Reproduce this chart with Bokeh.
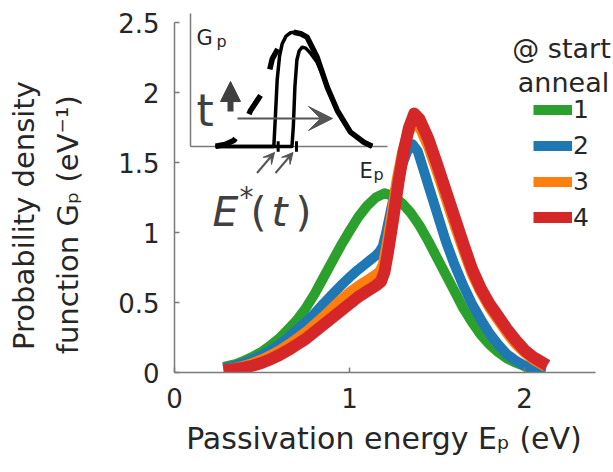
import math
from bokeh.plotting import figure
from bokeh.models import (Range1d, FixedTicker, Label, Legend, LegendItem,
                          Arrow, VeeHead, NormalHead, LinearAxis)
from bokeh.embed import file_html
from bokeh.resources import INLINE

# ---------------- main chart data ----------------
ep_1 = [0.28, 0.35, 0.40, 0.45, 0.50, 0.55, 0.60, 0.65, 0.70, 0.75, 0.80, 0.85, 0.90,
        0.95, 1.00, 1.05, 1.10, 1.15, 1.20, 1.25, 1.30, 1.35, 1.40, 1.45, 1.50, 1.55,
        1.60, 1.65, 1.70, 1.75, 1.80, 1.85, 1.90, 1.95, 2.00, 2.05, 2.12]
gp_1 = [0.04, 0.06, 0.085, 0.115, 0.15, 0.195, 0.245, 0.31, 0.375, 0.46, 0.56, 0.675,
        0.79, 0.905, 1.01, 1.11, 1.19, 1.25, 1.28, 1.26, 1.21, 1.14, 1.05, 0.94, 0.82,
        0.70, 0.58, 0.46, 0.36, 0.27, 0.20, 0.145, 0.10, 0.07, 0.045, 0.025, 0.01]

ep_2 = [0.28, 0.35, 0.40, 0.45, 0.50, 0.55, 0.60, 0.65, 0.70, 0.75, 0.80, 0.85, 0.90,
        0.95, 1.00, 1.05, 1.10, 1.15, 1.17, 1.19, 1.21, 1.24, 1.27, 1.30, 1.33, 1.36,
        1.39, 1.42, 1.45, 1.50, 1.55, 1.60, 1.65, 1.70, 1.75, 1.80, 1.85, 1.90, 1.95,
        2.00, 2.05, 2.12]
gp_2 = [0.03, 0.05, 0.07, 0.095, 0.125, 0.16, 0.20, 0.25, 0.305, 0.36, 0.42, 0.49, 0.555,
        0.62, 0.68, 0.735, 0.785, 0.835, 0.86, 0.90, 1.00, 1.18, 1.35, 1.48, 1.58, 1.63,
        1.58, 1.46, 1.34, 1.14, 0.94, 0.77, 0.62, 0.49, 0.38, 0.28, 0.20, 0.13, 0.085,
        0.05, 0.03, 0.01]

ep_3 = [0.28, 0.35, 0.40, 0.45, 0.50, 0.55, 0.60, 0.65, 0.70, 0.75, 0.80, 0.85, 0.90,
        0.95, 1.00, 1.05, 1.10, 1.15, 1.17, 1.19, 1.21, 1.24, 1.27, 1.30, 1.33, 1.37,
        1.40, 1.45, 1.50, 1.55, 1.60, 1.65, 1.70, 1.75, 1.80, 1.85, 1.90, 1.95, 2.00,
        2.05, 2.12]
gp_3 = [0.02, 0.035, 0.05, 0.07, 0.095, 0.125, 0.16, 0.20, 0.245, 0.29, 0.345, 0.40, 0.46,
        0.52, 0.575, 0.62, 0.66, 0.70, 0.72, 0.77, 0.90, 1.13, 1.38, 1.57, 1.70, 1.78,
        1.75, 1.61, 1.43, 1.24, 1.05, 0.87, 0.70, 0.57, 0.46, 0.37, 0.28, 0.20, 0.14,
        0.09, 0.04]

ep_4 = [0.28, 0.35, 0.40, 0.45, 0.50, 0.55, 0.60, 0.65, 0.70, 0.75, 0.80, 0.85, 0.90,
        0.95, 1.00, 1.05, 1.10, 1.15, 1.18, 1.20, 1.22, 1.25, 1.28, 1.31, 1.34, 1.37,
        1.40, 1.45, 1.50, 1.55, 1.60, 1.65, 1.70, 1.75, 1.80, 1.85, 1.90, 1.95, 2.00,
        2.05, 2.13]
gp_4 = [0.015, 0.025, 0.035, 0.05, 0.07, 0.095, 0.125, 0.16, 0.20, 0.24, 0.29, 0.34, 0.39,
        0.44, 0.49, 0.54, 0.58, 0.62, 0.65, 0.72, 0.86, 1.10, 1.36, 1.58, 1.75, 1.85,
        1.81, 1.67, 1.49, 1.30, 1.11, 0.92, 0.74, 0.60, 0.49, 0.40, 0.31, 0.23, 0.16,
        0.11, 0.05]

series_labels = ["1", "2", "3", "4"]
series_colors = ["#2ca02c", "#1f77b4", "#ff7f0e", "#d62728"]
series_widths = [10, 10, 10, 12]
legend_title = ["@ start", "anneal"]

x_ticks = [0, 1, 2]
x_tick_labels = ["0", "1", "2"]
y_ticks = [0, 0.5, 1, 1.5, 2, 2.5]
y_tick_labels = ["0", "0.5", "1", "1.5", "2", "2.5"]

NB = "\u00a0"
x_title = "Passivation energy E\u209a (eV)"
y_title_1 = "Probability density"
y_title_2 = "function G\u209a (eV\u207b\u00b9)"

# ---------------- inset (schematic) data, inset units ----------------
inset_gauss_left_x = [0.127, 0.175, 0.220, 0.262, 0.305, 0.345, 0.381, 0.415, 0.448,
                      0.474, 0.500, 0.524]
inset_gauss_left_y = [0.002, 0.015, 0.045, 0.130, 0.271, 0.360, 0.446, 0.659, 0.747,
                      0.822, 0.850, 0.859]
inset_gauss_right_x = [0.524, 0.560, 0.592, 0.643, 0.694, 0.745, 0.812, 0.880, 0.922]
inset_gauss_right_y = [0.859, 0.848, 0.822, 0.671, 0.446, 0.271, 0.108, 0.032, 0.002]

inset_trunc1_x = [0.127, 0.423, 0.430, 0.440, 0.452, 0.465, 0.485, 0.508, 0.524, 0.560,
                  0.592, 0.643, 0.694, 0.745, 0.812, 0.880, 0.922]
inset_trunc1_y = [0.0, 0.0, 0.20, 0.50, 0.68, 0.77, 0.83, 0.855, 0.859, 0.848, 0.822,
                  0.671, 0.446, 0.271, 0.108, 0.032, 0.002]
inset_trunc2_x = [0.127, 0.515, 0.522, 0.530, 0.540, 0.552, 0.567, 0.585, 0.610, 0.640,
                  0.670, 0.694, 0.745, 0.812, 0.880, 0.922]
inset_trunc2_y = [0.0, 0.0, 0.15, 0.45, 0.65, 0.72, 0.747, 0.740, 0.700, 0.640, 0.540,
                  0.446, 0.271, 0.108, 0.032, 0.002]
inset_estar = [0.445, 0.538]

# ---------------- figure ----------------
W, H = 612, 470
FL, FB, FT = 174, 372, 12          # frame left / bottom / top in page pixels
BL, BR, BT, BB = FL, 0, FT, H - FB
p = figure(width=W, height=H,
           x_range=Range1d(0, (W - FL) / 175.0), y_range=Range1d(0, (FB - FT) / 140.0),
           output_backend="svg", toolbar_location=None,
           min_border_left=BL, min_border_right=BR, min_border_top=BT, min_border_bottom=BB)
p.outline_line_color = None
p.xgrid.visible = False
p.ygrid.visible = False
p.background_fill_color = "white"
p.border_fill_color = "white"

p.extra_x_ranges = {"ix": Range1d((FL - 190) / 197.0, (W - 190) / 197.0)}
p.extra_y_ranges = {"iy": Range1d((146 - FB) / 133.0, (146 - FT) / 133.0)}

AX = "#7a7a7a"
TXT = "#262626"
FONT = "DejaVu Sans"
for ax in (p.xaxis[0], p.yaxis[0]):
    ax.axis_line_color = AX
    ax.axis_line_width = 1.5
    ax.major_tick_line_color = AX
    ax.major_tick_line_width = 1.5
    ax.major_tick_in = 5
    ax.major_tick_out = 0
    ax.minor_tick_line_color = None
    ax.major_label_text_font = FONT
    ax.major_label_text_font_size = "26px"
    ax.major_label_text_color = TXT
    ax.axis_label_text_font = FONT
    ax.axis_label_text_font_style = "normal"
    ax.axis_label_text_color = TXT
p.xaxis.ticker = FixedTicker(ticks=x_ticks)
p.xaxis.major_label_overrides = dict(zip(x_ticks, x_tick_labels))
p.xaxis.major_label_standoff = 15
p.xaxis.bounds = (0, 2.406)
p.xaxis.axis_label = x_title + NB * 2
p.xaxis.axis_label_text_font_size = "30px"
p.xaxis.axis_label_standoff = 10

p.yaxis.ticker = FixedTicker(ticks=y_ticks)
p.yaxis.major_label_overrides = dict(zip(y_ticks, y_tick_labels))
p.yaxis.major_label_standoff = 15
p.yaxis.bounds = (0, 2.5)
p.yaxis.axis_label = y_title_2 + NB * 7
p.yaxis.axis_label_text_font_size = "29px"
p.yaxis.axis_label_standoff = 30

outer = LinearAxis(ticker=FixedTicker(ticks=[]), axis_line_color=None,
                   major_tick_line_color=None, minor_tick_line_color=None,
                   axis_label=y_title_1 + NB * 5, axis_label_text_font=FONT,
                   axis_label_text_font_size="29px", axis_label_text_font_style="normal",
                   axis_label_text_color=TXT, axis_label_standoff=8)
p.add_layout(outer, "left")

# main curves
renderers = []
for xs, ys, c, w in zip([ep_1, ep_2, ep_3, ep_4], [gp_1, gp_2, gp_3, gp_4],
                        series_colors, series_widths):
    r = p.line(xs, ys, line_color=c, line_width=w, line_join="round")
    renderers.append(r)

legend = Legend(items=[LegendItem(label=l, renderers=[r]) for l, r in zip(series_labels, renderers)],
                location=(533 - FL, FB - 235), orientation="vertical",
                label_text_font=FONT, label_text_font_size="25px", label_text_color=TXT,
                glyph_width=39, glyph_height=11, label_height=36, spacing=0,
                padding=0, margin=0, label_standoff=1,
                border_line_color=None, background_fill_alpha=0)
p.add_layout(legend)

# helpers: page pixel -> main data / inset units (text placement only)
def dx(px): return (px - FL) / 175.0
def dy(py): return (FB - py) / 140.0
def ix(px): return (px - 190) / 197.0
def iy(py): return (146 - py) / 133.0

def lab(text, x, y, size, align="left", color=TXT, style="normal", inset=False):
    kw = dict(x_range_name="ix", y_range_name="iy") if inset else {}
    p.add_layout(Label(x=x, y=y, text=text, text_font=FONT, text_font_size=size,
                       text_color=color, text_align=align, text_baseline="alphabetic",
                       text_font_style=style, **kw))

# legend title
lab(legend_title[0], dx(561), dy(48), "27px", align="center")
lab(legend_title[1], dx(563), dy(82), "27px", align="center")

# ---------------- inset ----------------
IK = dict(x_range_name="ix", y_range_name="iy")
p.line([0, 1], [0, 0], line_color=AX, line_width=1.5, **IK)
p.line([0, 0], [0, 1], line_color=AX, line_width=1.5, **IK)
p.line(inset_trunc1_x, inset_trunc1_y, line_color="black", line_width=3.5, line_join="round", **IK)
p.line(inset_trunc2_x, inset_trunc2_y, line_color="black", line_width=3.5, line_join="round", **IK)
p.line(inset_gauss_left_x, inset_gauss_left_y, line_color="black", line_width=5.5,
       line_dash="22 28", **IK)
p.line(inset_gauss_right_x, inset_gauss_right_y, line_color="black", line_width=5.5,
       line_join="round", **IK)
p.segment(inset_estar, [-0.04] * len(inset_estar), inset_estar, [0.04] * len(inset_estar),
          line_color="black", line_width=3, **IK)

DG = "#404040"
GR = "#555555"
p.add_layout(Arrow(end=NormalHead(size=20, fill_color=DG, line_color=DG, line_width=1),
                   x_start=ix(230), y_start=iy(111), x_end=ix(230), y_end=iy(81),
                   line_color=DG, line_width=6, **IK))
p.add_layout(Arrow(end=VeeHead(size=24, fill_color=GR, line_color=GR, line_width=1),
                   x_start=ix(237), y_start=iy(118), x_end=ix(332), y_end=iy(118),
                   line_color=GR, line_width=2, **IK))
for x0, x1 in ((256.5, 274), (275, 292.5)):
    p.add_layout(Arrow(end=VeeHead(size=11, fill_color=GR, line_color=GR, line_width=1),
                       x_start=ix(x0), y_start=iy(172.5), x_end=ix(x1), y_end=iy(152),
                       line_color=GR, line_width=2, **IK))

lab("G", ix(196), iy(37), "21px", inset=True)
lab("p", ix(216), iy(41), "16px", inset=True)
lab("E", ix(359), iy(170), "21px", inset=True)
lab("p", ix(373), iy(174), "16px", inset=True)
lab("t", ix(196), iy(110), "44px", color=DG, inset=True)
lab("E", ix(212), iy(211.5), "41px", color=DG, style="italic", inset=True)
lab("*", ix(239), iy(197), "28px", color=DG, inset=True)
lab("(", ix(250), iy(211.5), "41px", color=DG, inset=True)
lab("t", ix(271), iy(211.5), "41px", color=DG, style="italic", inset=True)
lab(")", ix(295), iy(211.5), "41px", color=DG, inset=True)

open("out.html", "w").write(file_html(p, INLINE))
